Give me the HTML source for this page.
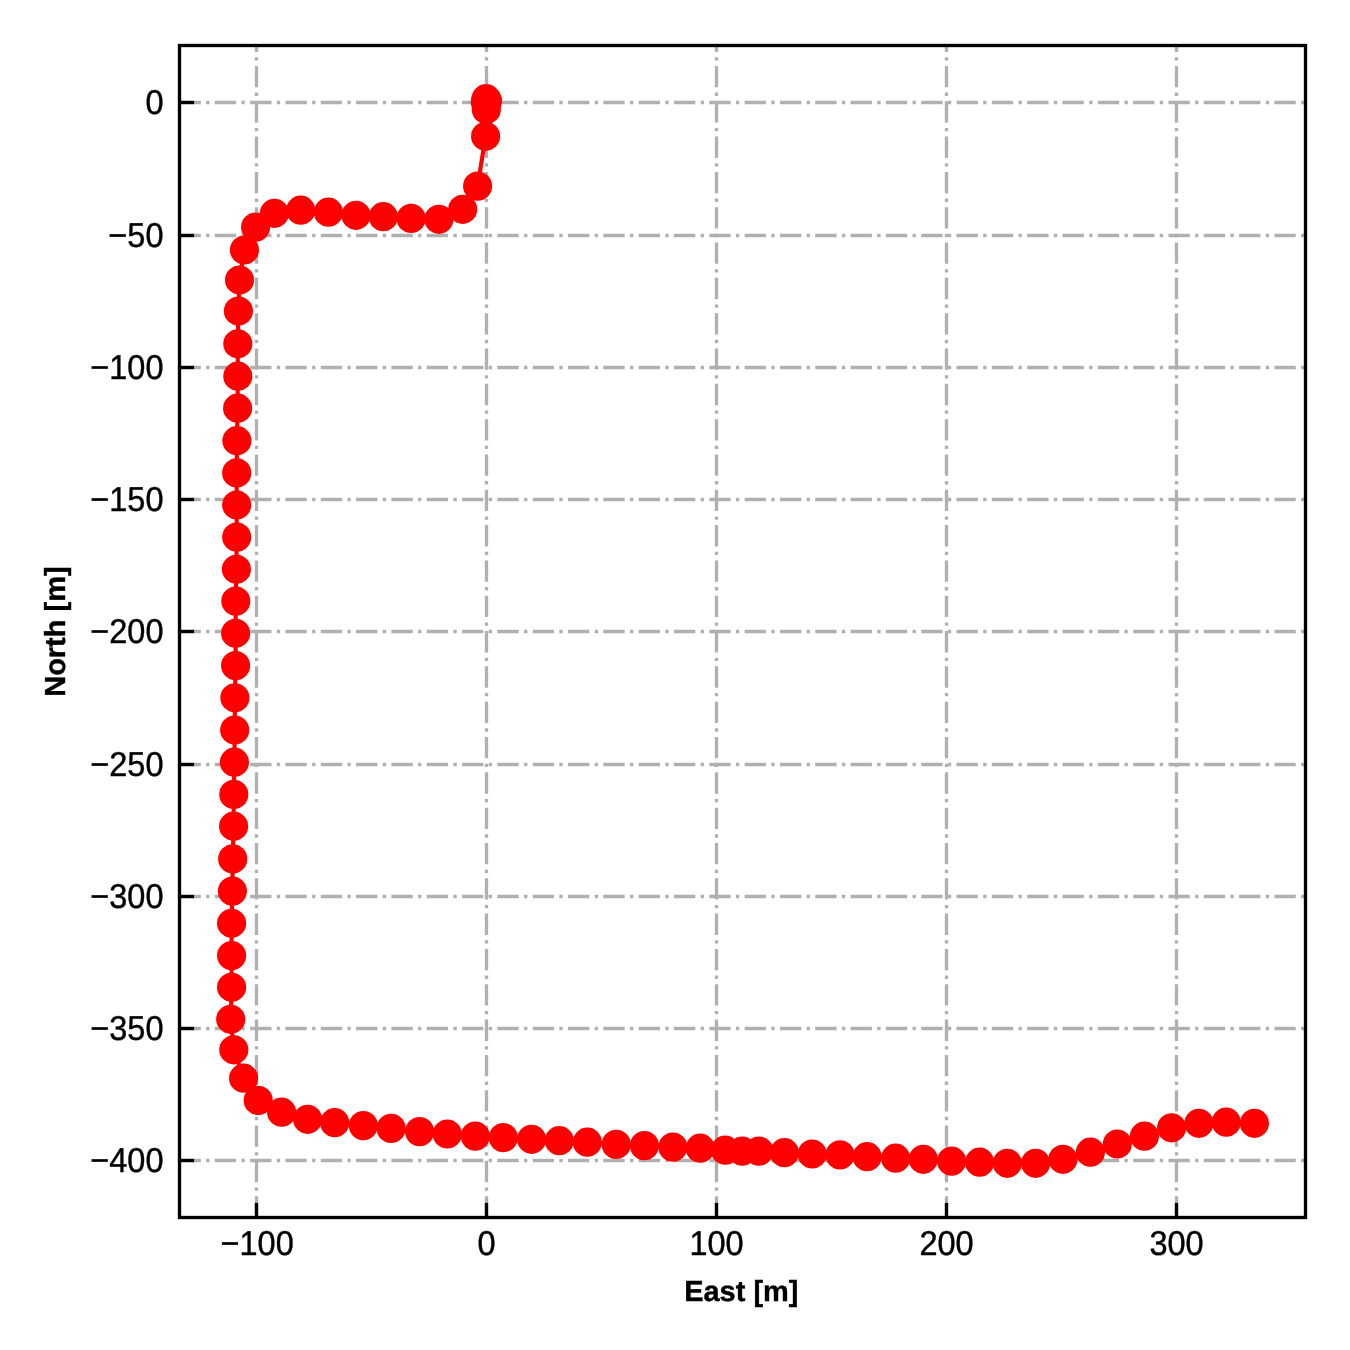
<!DOCTYPE html>
<html lang="en"><head><meta charset="utf-8"><title>Trajectory East / North</title>
<style>html,body{margin:0;padding:0;background:#fff}body{width:1350px;height:1350px;overflow:hidden}svg{display:block}text{text-rendering:geometricPrecision;font-family:"Liberation Sans",Arial,Helvetica,sans-serif;fill:#000}</style></head><body>
<svg width="1350" height="1350" viewBox="0 0 1350 1350">
<rect width="1350" height="1350" fill="#fff"/>
<g fill="none" stroke="#b0b0b0" stroke-width="3.33" stroke-dasharray="21.33,5.33,3.33,5.33">
<path d="M256.5 1217.5V45.5"/>
<path d="M486.5 1217.5V45.5"/>
<path d="M716.5 1217.5V45.5"/>
<path d="M946.5 1217.5V45.5"/>
<path d="M1176.5 1217.5V45.5"/>
<path d="M179.5 102.5H1305.5"/>
<path d="M179.5 235.5H1305.5"/>
<path d="M179.5 367.5H1305.5"/>
<path d="M179.5 499.5H1305.5"/>
<path d="M179.5 631.5H1305.5"/>
<path d="M179.5 764.5H1305.5"/>
<path d="M179.5 896.5H1305.5"/>
<path d="M179.5 1028.5H1305.5"/>
<path d="M179.5 1160.5H1305.5"/>
</g>
<polyline fill="none" stroke="#f00" stroke-width="4.17" stroke-linejoin="round" points="486.1,98.7 487.5,100.8 485.3,101.7 486.3,109.5 485.6,136.3 477.6,186.1 462.7,209.3 438.9,219.3 411.1,218.4 383.3,216.7 356.0,215.3 328.4,212.2 300.7,210.2 274.4,213.3 255.6,227.1 244.4,250.0 239.5,280.0 238.4,311.0 237.8,343.8 237.8,376.2 237.6,408.2 236.9,440.7 236.7,472.9 236.7,505.0 236.7,537.1 236.4,569.3 235.8,601.1 235.6,633.3 235.6,665.6 234.9,697.8 234.7,730.0 234.4,762.2 233.8,794.4 233.6,826.2 232.7,858.9 232.4,891.1 231.6,923.3 231.6,955.6 231.6,987.3 230.7,1019.3 233.8,1049.8 243.6,1078.2 258.2,1100.4 281.6,1112.2 307.6,1119.3 334.7,1122.7 363.3,1125.6 391.1,1128.4 419.6,1131.6 447.3,1134.0 475.3,1136.1 503.3,1137.6 531.6,1139.3 559.3,1140.7 587.3,1142.2 616.2,1144.4 644.4,1145.6 672.9,1147.1 700.2,1148.2 725.2,1150.2 742.2,1151.1 758.9,1151.1 784.4,1152.7 812.2,1154.0 840.0,1154.9 867.1,1156.7 895.6,1158.2 923.3,1159.3 951.6,1161.1 979.6,1162.2 1007.3,1163.3 1035.6,1163.3 1062.9,1159.3 1090.4,1152.2 1117.3,1144.0 1144.4,1136.2 1171.6,1127.8 1198.9,1123.3 1226.2,1122.2 1254.4,1123.3"/>
<g fill="#f00">
<circle cx="486.1" cy="98.7" r="14.58"/>
<circle cx="487.5" cy="100.8" r="14.58"/>
<circle cx="485.3" cy="101.7" r="14.58"/>
<circle cx="486.3" cy="109.5" r="14.58"/>
<circle cx="485.6" cy="136.3" r="14.58"/>
<circle cx="477.6" cy="186.1" r="14.58"/>
<circle cx="462.7" cy="209.3" r="14.58"/>
<circle cx="438.9" cy="219.3" r="14.58"/>
<circle cx="411.1" cy="218.4" r="14.58"/>
<circle cx="383.3" cy="216.7" r="14.58"/>
<circle cx="356.0" cy="215.3" r="14.58"/>
<circle cx="328.4" cy="212.2" r="14.58"/>
<circle cx="300.7" cy="210.2" r="14.58"/>
<circle cx="274.4" cy="213.3" r="14.58"/>
<circle cx="255.6" cy="227.1" r="14.58"/>
<circle cx="244.4" cy="250.0" r="14.58"/>
<circle cx="239.5" cy="280.0" r="14.58"/>
<circle cx="238.4" cy="311.0" r="14.58"/>
<circle cx="237.8" cy="343.8" r="14.58"/>
<circle cx="237.8" cy="376.2" r="14.58"/>
<circle cx="237.6" cy="408.2" r="14.58"/>
<circle cx="236.9" cy="440.7" r="14.58"/>
<circle cx="236.7" cy="472.9" r="14.58"/>
<circle cx="236.7" cy="505.0" r="14.58"/>
<circle cx="236.7" cy="537.1" r="14.58"/>
<circle cx="236.4" cy="569.3" r="14.58"/>
<circle cx="235.8" cy="601.1" r="14.58"/>
<circle cx="235.6" cy="633.3" r="14.58"/>
<circle cx="235.6" cy="665.6" r="14.58"/>
<circle cx="234.9" cy="697.8" r="14.58"/>
<circle cx="234.7" cy="730.0" r="14.58"/>
<circle cx="234.4" cy="762.2" r="14.58"/>
<circle cx="233.8" cy="794.4" r="14.58"/>
<circle cx="233.6" cy="826.2" r="14.58"/>
<circle cx="232.7" cy="858.9" r="14.58"/>
<circle cx="232.4" cy="891.1" r="14.58"/>
<circle cx="231.6" cy="923.3" r="14.58"/>
<circle cx="231.6" cy="955.6" r="14.58"/>
<circle cx="231.6" cy="987.3" r="14.58"/>
<circle cx="230.7" cy="1019.3" r="14.58"/>
<circle cx="233.8" cy="1049.8" r="14.58"/>
<circle cx="243.6" cy="1078.2" r="14.58"/>
<circle cx="258.2" cy="1100.4" r="14.58"/>
<circle cx="281.6" cy="1112.2" r="14.58"/>
<circle cx="307.6" cy="1119.3" r="14.58"/>
<circle cx="334.7" cy="1122.7" r="14.58"/>
<circle cx="363.3" cy="1125.6" r="14.58"/>
<circle cx="391.1" cy="1128.4" r="14.58"/>
<circle cx="419.6" cy="1131.6" r="14.58"/>
<circle cx="447.3" cy="1134.0" r="14.58"/>
<circle cx="475.3" cy="1136.1" r="14.58"/>
<circle cx="503.3" cy="1137.6" r="14.58"/>
<circle cx="531.6" cy="1139.3" r="14.58"/>
<circle cx="559.3" cy="1140.7" r="14.58"/>
<circle cx="587.3" cy="1142.2" r="14.58"/>
<circle cx="616.2" cy="1144.4" r="14.58"/>
<circle cx="644.4" cy="1145.6" r="14.58"/>
<circle cx="672.9" cy="1147.1" r="14.58"/>
<circle cx="700.2" cy="1148.2" r="14.58"/>
<circle cx="725.2" cy="1150.2" r="14.58"/>
<circle cx="742.2" cy="1151.1" r="14.58"/>
<circle cx="758.9" cy="1151.1" r="14.58"/>
<circle cx="784.4" cy="1152.7" r="14.58"/>
<circle cx="812.2" cy="1154.0" r="14.58"/>
<circle cx="840.0" cy="1154.9" r="14.58"/>
<circle cx="867.1" cy="1156.7" r="14.58"/>
<circle cx="895.6" cy="1158.2" r="14.58"/>
<circle cx="923.3" cy="1159.3" r="14.58"/>
<circle cx="951.6" cy="1161.1" r="14.58"/>
<circle cx="979.6" cy="1162.2" r="14.58"/>
<circle cx="1007.3" cy="1163.3" r="14.58"/>
<circle cx="1035.6" cy="1163.3" r="14.58"/>
<circle cx="1062.9" cy="1159.3" r="14.58"/>
<circle cx="1090.4" cy="1152.2" r="14.58"/>
<circle cx="1117.3" cy="1144.0" r="14.58"/>
<circle cx="1144.4" cy="1136.2" r="14.58"/>
<circle cx="1171.6" cy="1127.8" r="14.58"/>
<circle cx="1198.9" cy="1123.3" r="14.58"/>
<circle cx="1226.2" cy="1122.2" r="14.58"/>
<circle cx="1254.4" cy="1123.3" r="14.58"/>
</g>
<g fill="none" stroke="#000" stroke-width="3.33">
<path d="M256.5 1217.5v-14.6"/>
<path d="M486.5 1217.5v-14.6"/>
<path d="M716.5 1217.5v-14.6"/>
<path d="M946.5 1217.5v-14.6"/>
<path d="M1176.5 1217.5v-14.6"/>
<path d="M179.5 102.5h14.6"/>
<path d="M179.5 235.5h14.6"/>
<path d="M179.5 367.5h14.6"/>
<path d="M179.5 499.5h14.6"/>
<path d="M179.5 631.5h14.6"/>
<path d="M179.5 764.5h14.6"/>
<path d="M179.5 896.5h14.6"/>
<path d="M179.5 1028.5h14.6"/>
<path d="M179.5 1160.5h14.6"/>
<rect x="179.5" y="45.5" width="1126.0" height="1172.0"/>
</g>
<g font-size="33.33" text-anchor="middle" stroke="#000" stroke-width="0.4">
<text transform="translate(257.1 1255.0) scale(0.975 1.035)">−100</text>
<text transform="translate(486.5 1255.0) scale(0.975 1.035)">0</text>
<text transform="translate(716.5 1255.0) scale(0.975 1.035)">100</text>
<text transform="translate(946.5 1255.0) scale(0.975 1.035)">200</text>
<text transform="translate(1176.5 1255.0) scale(0.975 1.035)">300</text>
</g>
<g font-size="33.33" text-anchor="end" stroke="#000" stroke-width="0.4">
<text transform="translate(163.5 114.05) scale(0.975 1.035)">0</text>
<text transform="translate(163.5 247.05) scale(0.975 1.035)">−50</text>
<text transform="translate(163.5 379.05) scale(0.975 1.035)">−100</text>
<text transform="translate(163.5 511.05) scale(0.975 1.035)">−150</text>
<text transform="translate(163.5 643.05) scale(0.975 1.035)">−200</text>
<text transform="translate(163.5 776.05) scale(0.975 1.035)">−250</text>
<text transform="translate(163.5 908.05) scale(0.975 1.035)">−300</text>
<text transform="translate(163.5 1040.05) scale(0.975 1.035)">−350</text>
<text transform="translate(163.5 1172.05) scale(0.975 1.035)">−400</text>
</g>
<text transform="translate(741.3 1301.0) scale(1 1.0)" font-size="28.97" font-weight="bold" text-anchor="middle" stroke="#000" stroke-width="0.4">East [m]</text>
<text transform="translate(65.0 631.6) rotate(-90) scale(1 1.0)" font-size="28.97" font-weight="bold" text-anchor="middle" stroke="#000" stroke-width="0.4">North [m]</text>
</svg></body></html>
